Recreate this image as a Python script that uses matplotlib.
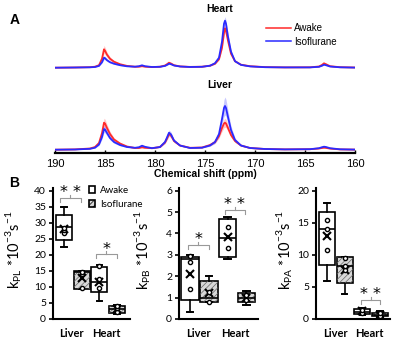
import matplotlib
matplotlib.use("Agg")
import matplotlib.pyplot as plt
from matplotlib.patches import Patch, Rectangle
from matplotlib.lines import Line2D

# ---- panel A: spectra (intensity in arbitrary units) ----
ppm = [190, 188, 186.5, 186, 185.6, 185.3, 185.1, 185.0, 184.8, 184.5,
       184.1, 183.5, 182.8, 182.0, 181.6, 181.3, 181.0, 180.3, 179.5, 179.0,
       178.8, 178.6, 178.4, 178.1, 177.5, 176.5, 175.3, 174.5, 174.0, 173.6,
       173.3, 173.1, 173.0, 172.9, 172.7, 172.4, 172.0, 171.4, 170.5, 169.0,
       167.0, 164.5, 163.6, 163.3, 163.1, 162.9, 162.5, 161.5, 160.0]

heart_awake = [0, 0.2, 0.5, 1.0, 2.5, 9, 18.4, 17, 13, 9,
               6, 3.5, 1.8, 1.0, 1.0, 1.5, 1.0, 0.6, 1.0, 2.2,
               3.5, 5.0, 4.2, 2.5, 1.3, 0.8, 1.0, 2.0, 4.0, 8.5,
               20, 35, 39.4, 37, 27, 14, 6.5, 3, 1.5, 0.6,
               0.3, 0.4, 1.2, 2.8, 4.4, 3.5, 1.5, 0.5, 0.2]
heart_iso = [0, 0.2, 0.4, 0.7, 1.8, 5.5, 10, 9.5, 7.5, 5.5,
             4, 2.5, 1.4, 1.0, 1.5, 2.4, 1.5, 0.7, 0.9, 1.8,
             2.8, 4.0, 3.5, 2.2, 1.2, 0.7, 0.9, 2.0, 4.5, 10,
             26, 44, 47, 44, 31, 16, 6.5, 2.8, 1.3, 0.5,
             0.3, 0.3, 0.9, 2.0, 3.0, 2.5, 1.2, 0.4, 0.1]
liver_awake = [0.3, 0.6, 1.5, 3, 7, 17, 27.3, 26.5, 22, 16,
               10.5, 6.5, 3.5, 2, 2, 2.7, 2.2, 1.8, 3, 7.5,
               11.5, 16, 14.5, 9, 4.5, 2.2, 2.5, 5, 8, 14,
               22, 26.5, 27.3, 26.5, 22, 15, 9, 4.5, 2, 1,
               0.6, 0.8, 1.5, 2, 2.3, 2.1, 1.4, 0.6, 0.4]
liver_iso = [0.3, 0.5, 1.2, 2.3, 5.5, 13, 21, 20.5, 17, 12,
             8, 5, 3, 2.2, 2.8, 4.3, 3.2, 1.8, 3, 8,
             12.5, 17.3, 15.5, 9.5, 4.5, 2, 2.3, 4.5, 8, 16,
             31, 42, 44, 42, 33, 20, 10, 4.5, 2, 1,
             0.6, 0.8, 1.8, 2.8, 3.3, 3, 1.8, 0.7, 0.4]

heart_awake_sd = [0, 0, 0.1, 0.2, 0.5, 1.8, 4, 3.5, 2.6, 1.8,
                  1.2, 0.7, 0.4, 0.2, 0.2, 0.3, 0.2, 0.1, 0.2, 0.4,
                  0.7, 1, 0.8, 0.5, 0.3, 0.2, 0.2, 0.4, 0.7, 1,
                  2, 3.5, 4, 3.6, 2.4, 1.2, 0.6, 0.3, 0.2, 0.1,
                  0, 0, 0.2, 0.4, 0.6, 0.5, 0.2, 0.1, 0]
heart_iso_sd = [0, 0, 0.1, 0.1, 0.3, 1, 1.8, 1.7, 1.3, 1,
                0.7, 0.4, 0.2, 0.2, 0.3, 0.4, 0.3, 0.1, 0.2, 0.3,
                0.5, 0.7, 0.6, 0.4, 0.2, 0.1, 0.2, 0.4, 0.7, 1.3,
                2.5, 3.8, 4, 3.8, 2.8, 1.5, 0.7, 0.3, 0.2, 0.1,
                0, 0, 0.2, 0.3, 0.4, 0.4, 0.2, 0.1, 0]
liver_awake_sd = [0, 0.1, 0.3, 0.6, 1.2, 2.8, 4.5, 4.3, 3.6, 2.6,
                  1.7, 1.1, 0.6, 0.3, 0.3, 0.5, 0.4, 0.3, 0.5, 1.2,
                  1.8, 2.4, 2.2, 1.4, 0.7, 0.4, 0.4, 0.8, 1.3, 2.2,
                  3.5, 4.2, 4.5, 4.2, 3.5, 2.4, 1.4, 0.7, 0.3, 0.2,
                  0.1, 0.1, 0.2, 0.3, 0.4, 0.3, 0.2, 0.1, 0.1]
liver_iso_sd = [0, 0.1, 0.2, 0.4, 1, 2.2, 3.5, 3.4, 2.8, 2,
                1.3, 0.8, 0.5, 0.4, 0.5, 0.8, 0.6, 0.3, 0.5, 1.3,
                2, 2.8, 2.5, 1.5, 0.7, 0.3, 0.4, 0.8, 1.5, 3,
                6, 8.5, 9, 8.5, 6.5, 4, 2, 0.8, 0.3, 0.2,
                0.1, 0.1, 0.3, 0.5, 0.6, 0.5, 0.3, 0.1, 0.1]

# ---- panel B: box plots (order: liver awake, liver iso, heart awake, heart iso) ----
kpl_whislo = [22.3, 9.5, 5.7, 1.6]
kpl_q1 = [24.6, 9.5, 8.3, 2.0]
kpl_med = [28.8, 14.5, 11.6, 3.1]
kpl_q3 = [32.4, 15.0, 16.1, 4.1]
kpl_whishi = [35.0, 15.0, 16.8, 4.5]
kpl_mean = [28.2, 12.9, 11.4, 3.2]
kpl_points = [[26.7, 27.7, 28.5], [9.8, 13.9, 14.6], [9.6, 12.4, 16.4], [2.3, 3.5, 4.2]]

kpb_whislo = [0.31, 0.78, 2.8, 0.65]
kpb_q1 = [0.89, 0.78, 2.91, 0.81]
kpb_med = [2.82, 0.97, 3.8, 1.0]
kpb_q3 = [2.88, 1.79, 4.67, 1.2]
kpb_whishi = [2.99, 2.02, 4.78, 1.3]
kpb_mean = [2.09, 1.2, 3.82, 1.0]
kpb_points = [[1.40, 2.68, 2.94], [0.81, 1.25], [3.33, 4.31], [0.9, 1.1]]

kpa_whislo = [6.0, 3.9, 0.7, 0.3]
kpa_q1 = [8.4, 5.6, 0.8, 0.4]
kpa_med = [14.0, 8.3, 1.15, 0.7]
kpa_q3 = [16.7, 9.6, 1.5, 1.0]
kpa_whishi = [18.1, 9.6, 1.7, 1.2]
kpa_mean = [13.0, 7.6, 1.2, 0.7]
kpa_points = [[10.8, 14.0, 15.4], [7.6, 8.2, 9.5], [0.9, 1.4], [0.5, 0.9]]

organs = ["Liver", "Heart"]

plt.rcParams["hatch.linewidth"] = 0.5
plt.rcParams["mathtext.fontset"] = "custom"
plt.rcParams["mathtext.rm"] = "Lato"
fig = plt.figure(figsize=(4, 3.46), dpi=100)


def px_axes(l, t, r, b):
    return fig.add_axes([l / 400, 1 - b / 346, (r - l) / 400, (b - t) / 346])


ARIAL = "Liberation Sans"
CAL = "Lato"
RED = "#ff2a2a"
BLUE = "#2a2aff"

# panel A
axA = px_axes(55, 10, 355, 153)
for off, aw, iso, aw_sd, iso_sd in [(85.3, heart_awake, heart_iso, heart_awake_sd, heart_iso_sd),
                                    (3.0, liver_awake, liver_iso, liver_awake_sd, liver_iso_sd)]:
    axA.fill_between(ppm, [off + v - s for v, s in zip(aw, aw_sd)],
                     [off + v + s for v, s in zip(aw, aw_sd)], color=RED, alpha=0.25, lw=0)
    axA.fill_between(ppm, [off + v - s for v, s in zip(iso, iso_sd)],
                     [off + v + s for v, s in zip(iso, iso_sd)], color=BLUE, alpha=0.25, lw=0)
    axA.plot(ppm, [off + v for v in aw], color=RED, lw=1.3)
    axA.plot(ppm, [off + v for v in iso], color=BLUE, lw=1.3)
axA.set_xlim(190, 160)
axA.set_ylim(0, 143)
for s in ["top", "right", "left"]:
    axA.spines[s].set_visible(False)
axA.spines["bottom"].set_linewidth(1.6)
axA.set_yticks([])
axA.set_xticks([190, 185, 180, 175, 170, 165, 160])
axA.tick_params(axis="x", direction="in", length=2, width=1, labelsize=8, pad=4)
for t in axA.get_xticklabels():
    t.set_family(ARIAL)
axA.set_xlabel("Chemical shift (ppm)", fontsize=7.5, fontweight="bold", family=ARIAL, labelpad=0.5)
axA.text(173.5, 144, "Heart", ha="center", va="center", fontsize=7.5, fontweight="bold", family=ARIAL)
axA.text(173.5, 68, "Liver", ha="center", va="center", fontsize=7.5, fontweight="bold", family=ARIAL)
axA.legend([Line2D([], [], color=RED, lw=1.1), Line2D([], [], color=BLUE, lw=1.1)],
           ["Awake", "Isoflurane"], loc="upper left", bbox_to_anchor=(266 / 400, 1 - 23 / 346),
           bbox_transform=fig.transFigure, frameon=False, handlelength=2.6, handletextpad=0.3,
           labelspacing=0.4, prop={"family": ARIAL, "size": 7}, borderaxespad=0, borderpad=0)

fig.text(15 / 400, 1 - 20 / 346, "A", fontsize=10, fontweight="bold", family=ARIAL, ha="center", va="center")
fig.text(14 / 400, 1 - 183 / 346, "B", fontsize=10, fontweight="bold", family=ARIAL, ha="center", va="center")


def box_panel(rect, xlim, width, ymax, yticks, whislo, q1, med, q3, whishi, mean, points,
              brackets, ylab, ylab_x):
    ax = px_axes(*rect)
    stats = []
    for i in range(4):
        stats.append(dict(whislo=whislo[i], q1=q1[i], med=med[i], q3=q3[i], whishi=whishi[i],
                          mean=mean[i], fliers=[]))
    pos = [1, 2, 3, 4]
    bp = ax.bxp(stats, positions=pos, widths=width, patch_artist=True, showmeans=True,
                manage_ticks=False, capwidths=width * 0.35,
                boxprops=dict(facecolor="white", edgecolor="black", lw=1.2),
                whiskerprops=dict(color="black", lw=1.2), capprops=dict(color="black", lw=1.4),
                medianprops=dict(color="black", lw=1.2),
                meanprops=dict(marker="x", markeredgecolor="black", markersize=5.5, mew=1.5))
    for i in (1, 3):
        bp["boxes"][i].set_facecolor("#d8d8d8")
        ax.add_patch(Rectangle((pos[i] - width / 2, q1[i]), width, q3[i] - q1[i], fill=False,
                               hatch="//////", edgecolor="#666666", lw=0, zorder=2.05))
    for i in range(4):
        ax.scatter([pos[i]] * len(points[i]), points[i], s=9, facecolor="white",
                   edgecolor="black", lw=1.0, zorder=4)
    ax.set_xlim(*xlim)
    ax.set_ylim(0, ymax)
    ax.set_yticks(yticks)
    ax.set_xticks([1.45, 3.4])
    ax.set_xticklabels(organs, fontweight="bold", family=CAL, fontsize=8)
    ax.tick_params(axis="x", length=0, pad=6.5)
    ax.tick_params(axis="y", direction="out", length=3, width=1.2, labelsize=7.5, pad=2)
    for t in ax.get_yticklabels():
        t.set_family(CAL)
    for s in ["top", "right"]:
        ax.spines[s].set_visible(False)
    for s in ["left", "bottom"]:
        ax.spines[s].set_linewidth(1.5)
    upp = ymax / ax.bbox.height  # data units per pixel
    for x1, x2, y, txt in brackets:
        xc = (x1 + x2) / 2
        ax.plot([x1, x1, x2, x2], [y - 4 * upp, y, y, y - 4 * upp], color="#999999", lw=0.8,
                clip_on=False)
        ax.plot([xc, xc], [y, y + 3 * upp], color="#999999", lw=0.8, clip_on=False)
        ax.annotate(txt, (xc, y), xytext=(0, 0.5), textcoords="offset points", ha="center",
                    va="baseline", fontsize=11.5, family="DejaVu Sans", annotation_clip=False)
    fig.text(ylab_x / 400, 1 - 250 / 346, ylab, rotation=90, ha="center", va="center",
             fontsize=10.5, family=CAL)
    return ax


ax1 = box_panel((53, 187.5, 130, 319), (0.39, 4.72), 0.9, 41, range(0, 41, 5),
                kpl_whislo, kpl_q1, kpl_med, kpl_q3, kpl_whishi, kpl_mean, kpl_points,
                [(0.79, 1.95, 37.8, "* *"), (2.81, 3.97, 20.2, "*")],
                r"k$_{\mathrm{PL}}$ *10$^{\mathrm{-3}}$s$^{\mathrm{-1}}$", 14)
ax1.legend([Patch(facecolor="white", edgecolor="black", lw=1.2),
            Patch(facecolor="#d8d8d8", edgecolor="black", hatch="//////", lw=1.2)],
           ["Awake", "Isoflurane"], loc="upper left", bbox_to_anchor=(89 / 400, 1 - 186 / 346),
           bbox_transform=fig.transFigure, frameon=False, handlelength=0.65, handleheight=0.65,
           handletextpad=0.5, labelspacing=0.5, prop={"family": CAL, "size": 7},
           borderaxespad=0, borderpad=0)

box_panel((179, 187.5, 258, 319), (0.43, 4.61), 0.94, 6.15, range(0, 7),
          kpb_whislo, kpb_q1, kpb_med, kpb_q3, kpb_whishi, kpb_mean, kpb_points,
          [(0.91, 2.0, 3.46, "*"), (2.85, 3.91, 5.09, "* *")],
          r"k$_{\mathrm{PB}}$ *10$^{\mathrm{-3}}$s$^{\mathrm{-1}}$", 143)

box_panel((316, 187.5, 390, 319), (0.38, 4.56), 0.9, 20.5, range(0, 21, 5),
          kpa_whislo, kpa_q1, kpa_med, kpa_q3, kpa_whishi, kpa_mean, kpa_points,
          [(2.94, 4.01, 2.97, "* *")],
          r"k$_{\mathrm{PA}}$ *10$^{\mathrm{-3}}$s$^{\mathrm{-1}}$", 285)

fig.savefig("out.png", dpi=100)
